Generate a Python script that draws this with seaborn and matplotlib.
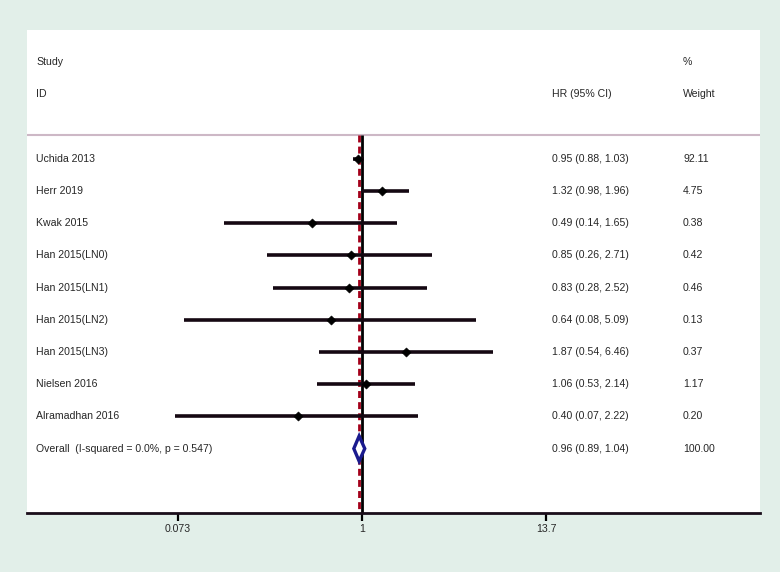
import numpy as np
import pandas as pd
import matplotlib
matplotlib.use("Agg")
import matplotlib.pyplot as plt
import matplotlib.transforms as mtransforms
import seaborn as sns

studies = ["Uchida 2013", "Herr 2019", "Kwak 2015", "Han 2015(LN0)", "Han 2015(LN1)",
           "Han 2015(LN2)", "Han 2015(LN3)", "Nielsen 2016", "Alramadhan 2016"]
hr = [0.95, 1.32, 0.49, 0.85, 0.83, 0.64, 1.87, 1.06, 0.40]
lo = [0.88, 0.98, 0.14, 0.26, 0.28, 0.08, 0.54, 0.53, 0.07]
hi = [1.03, 1.96, 1.65, 2.71, 2.52, 5.09, 6.46, 2.14, 2.22]
weights = ["92.11", "4.75", "0.38", "0.42", "0.46", "0.13", "0.37", "1.17", "0.20"]

overall_label = "Overall  (I-squared = 0.0%, p = 0.547)"
overall_hr, overall_lo, overall_hi = 0.96, 0.89, 1.04
overall_weight = "100.00"

xticks = [0.073, 1, 13.7]
xticklabels = ["0.073", "1", "13.7"]

df = pd.DataFrame({"study": studies, "hr": hr, "lo": lo, "hi": hi, "weight": weights})
df["row"] = np.arange(len(df))
overall_row = len(df)

sns.set_theme(style="white")
plt.rcParams["font.family"] = ["Liberation Sans", "DejaVu Sans"]

bg = "#e2efe9"
fig = plt.figure(figsize=(7.8, 5.72), dpi=100, facecolor=bg)
W, H = 780, 572
x0, x1, ytop, ybot = 27, 760, 30, 513
ax = fig.add_axes([x0 / W, 1 - ybot / H, (x1 - x0) / W, (ybot - ytop) / H])
ax.set_facecolor("white")

ax.set_xscale("log")
ax.set_xlim(np.exp(-4.765), np.exp(5.661))
ax.set_ylim(11, -4)

# CI lines
ax.hlines(df["row"], df["lo"], df["hi"], color="#150812", lw=2.6, zorder=3)
sns.scatterplot(data=df, x="hr", y="row", marker="D", s=22, color="black",
                edgecolor="black", ax=ax, zorder=4, legend=False)

# reference lines
sep = -0.75
ax.vlines(1, sep, 11, color="black", lw=2, zorder=2)
ax.vlines(overall_hr, sep, 11, color="#a3001a", lw=2, linestyles=(0, (2.5, 1.5)), zorder=2)
ax.axhline(sep, color="#cdb8c6", lw=1.5, zorder=1)

# overall diamond
d = 0.39
ax.fill([overall_lo, overall_hr, overall_hi, overall_hr, overall_lo],
        [overall_row, overall_row - d, overall_row, overall_row + d, overall_row],
        facecolor="white", edgecolor="#1a1a8e", lw=2.4, zorder=5)

# text columns
tr = mtransforms.blended_transform_factory(ax.transAxes, ax.transData)
fs = 7.6
col_study, col_hr, col_w = 0.0123, 0.716, 0.895
ax.text(col_study, -3, "Study", transform=tr, fontsize=fs, va="center")
ax.text(col_study, -2, "ID", transform=tr, fontsize=fs, va="center")
ax.text(col_hr, -2, "HR (95% CI)", transform=tr, fontsize=fs, va="center")
ax.text(col_w, -3, "%", transform=tr, fontsize=fs, va="center")
ax.text(col_w, -2, "Weight", transform=tr, fontsize=fs, va="center")

for _, r in df.iterrows():
    ax.text(col_study, r["row"], r["study"], transform=tr, fontsize=fs, va="center")
    ax.text(col_hr, r["row"], f"{r['hr']:.2f} ({r['lo']:.2f}, {r['hi']:.2f})",
            transform=tr, fontsize=fs, va="center")
    ax.text(col_w, r["row"], r["weight"], transform=tr, fontsize=fs, va="center")

ax.text(col_study, overall_row, overall_label, transform=tr, fontsize=fs, va="center")
ax.text(col_hr, overall_row, f"{overall_hr:.2f} ({overall_lo:.2f}, {overall_hi:.2f})",
        transform=tr, fontsize=fs, va="center")
ax.text(col_w, overall_row, overall_weight, transform=tr, fontsize=fs, va="center")

# axes styling
for s in ["top", "left", "right"]:
    ax.spines[s].set_visible(False)
ax.spines["bottom"].set_color("#1a0d1a")
ax.spines["bottom"].set_linewidth(2)
ax.set_yticks([])
ax.set_xticks(xticks)
ax.set_xticklabels(xticklabels, fontsize=fs)
ax.xaxis.set_minor_locator(matplotlib.ticker.NullLocator())
ax.tick_params(axis="x", direction="out", length=6, width=1.6, color="black", pad=2, bottom=True)
ax.set_xlabel("")
ax.set_ylabel("")

fig.savefig("out.png", dpi=100, facecolor=bg)
